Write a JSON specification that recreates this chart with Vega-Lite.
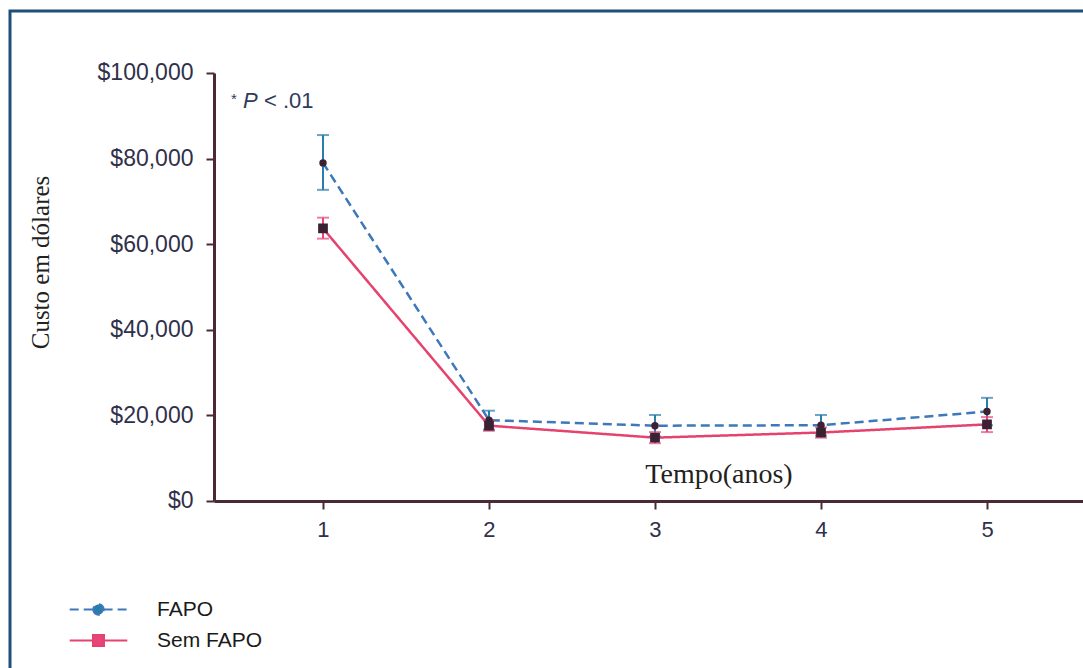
{
  "$schema": "https://vega.github.io/schema/vega-lite/v6.json",
  "width": 1073,
  "height": 657,
  "autosize": {"type": "none"},
  "padding": {"left": 10, "top": 11, "right": 0, "bottom": 0},
  "background": "white",
  "config": {
    "view": {"stroke": "#1f4e79", "strokeWidth": 3, "strokeDash": [1073, 1730, 657]},
    "axis": {"grid": false, "domainColor": "#4b2a35", "domainWidth": 3, "tickColor": "#4b2a35", "tickWidth": 2, "tickSize": 8, "labelFont": "Liberation Sans", "labelColor": "#30304a"},
    "legend": {"orient": "none", "legendX": 78, "legendY": 588, "padding": 0, "symbolSize": 144, "symbolStrokeWidth": 2.2, "symbolFillColor": "#3a2232", "labelFont": "Liberation Sans", "labelFontSize": 21, "labelColor": "#1a1a1a", "labelOffset": 48, "rowPadding": 9}
  },
  "data": {"values": [
    {"t": 1, "series": "FAPO", "mean": 79000, "lo": 72700, "hi": 85500},
    {"t": 2, "series": "FAPO", "mean": 18900, "lo": 16700, "hi": 21100},
    {"t": 3, "series": "FAPO", "mean": 17600, "lo": 15100, "hi": 20100},
    {"t": 4, "series": "FAPO", "mean": 17700, "lo": 15300, "hi": 20100},
    {"t": 5, "series": "FAPO", "mean": 20900, "lo": 17700, "hi": 24100},
    {"t": 1, "series": "Sem FAPO", "mean": 63700, "lo": 61300, "hi": 66200},
    {"t": 2, "series": "Sem FAPO", "mean": 17600, "lo": 16400, "hi": 18800},
    {"t": 3, "series": "Sem FAPO", "mean": 14800, "lo": 13500, "hi": 16100},
    {"t": 4, "series": "Sem FAPO", "mean": 16000, "lo": 14800, "hi": 17200},
    {"t": 5, "series": "Sem FAPO", "mean": 17900, "lo": 16100, "hi": 19600}
  ]},
  "encoding": {
    "x": {"field": "t", "type": "quantitative",
      "scale": {"domain": [-0.8855, 5.5783], "nice": false, "zero": false},
      "axis": {"values": [1, 2, 3, 4, 5], "offset": -167, "domainDash": [0, 204, 2000], "labelFontSize": 22, "labelPadding": 10,
        "title": "Tempo(anos)", "titleFont": "Liberation Serif", "titleFontSize": 28, "titleFontWeight": "normal", "titleColor": "#222222",
        "titleX": 708.5, "titleY": -19, "titleAlign": "center", "titleBaseline": "alphabetic", "titleAnchor": null}},
    "y": {"field": "mean", "type": "quantitative",
      "scale": {"domain": [-39019, 114486], "nice": false, "zero": false},
      "axis": {"values": [0, 20000, 40000, 60000, 80000, 100000], "offset": -204, "domainDash": [0, 167, 428, 2000], "labelFontSize": 23, "labelPadding": 13,
        "labelExpr": "'$' + format(datum.value, ',')",
        "title": "Custo em dólares", "titleFont": "Liberation Serif", "titleFontSize": 25, "titleFontWeight": "normal", "titleColor": "#222222",
        "titleAngle": 270, "titleX": -166, "titleY": 251, "titleAlign": "center", "titleBaseline": "alphabetic", "titleAnchor": null}}
  },
  "layer": [
    {
      "mark": {"type": "line", "strokeWidth": 2.5},
      "encoding": {
        "stroke": {"field": "series", "type": "nominal",
          "scale": {"domain": ["FAPO", "Sem FAPO"], "range": ["#3d78bb", "#e5426e"]},
          "legend": {"title": null,
            "encode": {"symbols": {
              "update": {
              "shape": {"signal": "datum.value === 'FAPO' ? 'M-4.8,0H-0.85M0.85,0H4.8M-0.85,0A0.85,0.85,0,1,0,0.85,0A0.85,0.85,0,1,0,-0.85,0Z' : 'M-4.8,0H-0.9M0.9,0H4.8M-0.9,-0.9H0.9V0.9H-0.9Z'"},
              "fill": {"value": "#3a2232"},
              "fillOpacity": {"value": 1}
            }}}}},
        "strokeDash": {"field": "series", "type": "nominal",
          "scale": {"domain": ["FAPO", "Sem FAPO"], "range": [[9, 5], [1, 0]]},
          "legend": {"title": null}}
      }
    },
    {
      "mark": {"type": "rule", "strokeWidth": 2},
      "encoding": {
        "y": {"field": "lo", "type": "quantitative"},
        "y2": {"field": "hi"},
        "color": {"field": "series", "type": "nominal", "scale": {"domain": ["FAPO", "Sem FAPO"], "range": ["#2b7bab", "#e8457a"]}, "legend": null}
      }
    },
    {
      "mark": {"type": "tick", "orient": "horizontal", "size": 12, "thickness": 2},
      "encoding": {
        "y": {"field": "lo", "type": "quantitative"},
        "fill": {"field": "series", "type": "nominal", "scale": {"domain": ["FAPO", "Sem FAPO"], "range": ["#2b7bab", "#e8457a"]}, "legend": null}
      }
    },
    {
      "mark": {"type": "tick", "orient": "horizontal", "size": 12, "thickness": 2},
      "encoding": {
        "y": {"field": "hi", "type": "quantitative"},
        "fill": {"field": "series", "type": "nominal", "scale": {"domain": ["FAPO", "Sem FAPO"], "range": ["#2b7bab", "#e8457a"]}, "legend": null}
      }
    },
    {
      "transform": [{"filter": "datum.series === 'FAPO'"}],
      "mark": {"type": "point", "shape": "circle", "filled": true, "opacity": 1, "size": 55, "color": "#3a2232"}
    },
    {
      "transform": [{"filter": "datum.series === 'Sem FAPO'"}],
      "mark": {"type": "point", "shape": "square", "filled": true, "opacity": 1, "size": 95, "color": "#3a2232"}
    },
    {
      "data": {"values": [{"px": 0.4458, "py": 92700, "txt": "*"}]},
      "mark": {"type": "text", "align": "left", "baseline": "alphabetic", "font": "Liberation Sans", "fontSize": 15, "color": "#303a5a"},
      "encoding": {"x": {"field": "px", "type": "quantitative"}, "y": {"field": "py", "type": "quantitative"}, "text": {"field": "txt"}}
    },
    {
      "data": {"values": [{"px": 0.5181, "py": 91820, "txt": "P"}]},
      "mark": {"type": "text", "align": "left", "baseline": "alphabetic", "font": "Liberation Sans", "fontSize": 22, "fontStyle": "italic", "color": "#303a5a"},
      "encoding": {"x": {"field": "px", "type": "quantitative"}, "y": {"field": "py", "type": "quantitative"}, "text": {"field": "txt"}}
    },
    {
      "data": {"values": [{"px": 0.6446, "py": 91820, "txt": "< .01"}]},
      "mark": {"type": "text", "align": "left", "baseline": "alphabetic", "font": "Liberation Sans", "fontSize": 22, "color": "#303a5a"},
      "encoding": {"x": {"field": "px", "type": "quantitative"}, "y": {"field": "py", "type": "quantitative"}, "text": {"field": "txt"}}
    }
  ]
}
